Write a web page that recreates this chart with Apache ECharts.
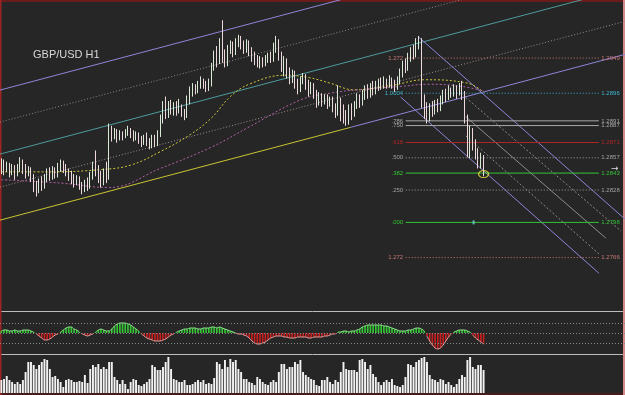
<!DOCTYPE html>
<html><head><meta charset="utf-8">
<script src="https://cdn.jsdelivr.net/npm/echarts@6/dist/echarts.min.js"></script>
<style>html,body{margin:0;padding:0;background:#262626;}#c{width:625px;height:395px;}</style>
</head><body><div id="c"></div><script>
// ---------------- DATA ----------------
const title = 'GBP/USD H1';
const PRICE_BASE = 1.2700;           // all *Pips values are pips above 1.2700
const N_SLOTS = 232;                  // bar slots across the window (180 bars + empty right margin)

// hourly candles [open, close, low, high] in pips
const candlesPips = [
[146,150,141,155],[150,145,140,154],[145,149,143,152],[149,143,138,151],[143,147,140,150],[147,141,136,149],[141,146,139,150],[146,151,143,156],[151,147,141,154],[147,142,137,150],
[142,145,139,148],[145,139,134,147],[139,132,125,141],[132,128,121,135],[128,134,124,137],[134,130,126,139],[130,137,128,141],[137,142,134,146],[142,139,135,147],[139,144,136,148],
[144,141,137,147],[141,146,138,151],[146,150,143,154],[150,146,142,153],[146,143,139,150],[143,140,135,146],[140,137,132,144],[137,134,129,141],[134,136,131,140],[136,131,127,139],
[131,128,123,134],[128,133,125,136],[133,130,126,138],[130,139,128,143],[139,147,136,152],[147,143,139,162],[143,138,133,149],[138,134,129,144],[134,141,131,146],[141,138,133,152],
[138,180,136,186],[180,176,170,184],[176,178,172,182],[178,174,169,181],[174,177,171,180],[177,175,171,179],[175,178,173,181],[178,180,175,184],[180,177,173,182],[177,174,170,180],
[174,176,171,179],[176,172,168,178],[172,169,165,175],[169,173,167,176],[173,170,166,178],[170,166,163,173],[166,171,164,176],[171,168,165,176],[168,176,166,180],[176,190,174,194],
[190,199,186,206],[199,195,190,210],[195,203,191,206],[203,198,194,207],[198,202,193,205],[202,197,193,206],[197,200,195,208],[200,196,192,203],[196,193,189,199],[193,206,191,211],
[206,214,203,219],[214,218,210,222],[218,216,212,221],[216,220,213,224],[220,224,217,228],[224,221,217,226],[221,218,214,224],[218,222,215,226],[222,236,219,240],[236,246,233,251],
[246,242,236,255],[242,254,239,262],[254,247,240,278],[247,240,236,252],[240,251,237,256],[251,256,248,260],[256,250,245,259],[250,258,247,262],[258,262,254,265],[262,257,252,264],
[257,253,248,260],[253,258,249,261],[258,252,246,260],[252,246,241,254],[246,243,238,250],[243,239,236,247],[239,242,235,246],[242,240,236,245],[240,243,237,247],[243,246,240,249],
[246,244,240,250],[244,252,241,258],[252,258,249,264],[258,246,242,261],[246,236,232,250],[236,241,228,246],[241,232,226,244],[232,226,221,236],[226,230,222,234],[230,222,217,233],
[222,217,212,226],[217,224,214,228],[224,228,221,231],[228,221,216,230],[221,215,210,225],[215,219,212,223],[219,213,208,222],[213,205,200,216],[205,210,202,214],[210,206,201,213],
[206,209,203,212],[209,204,199,212],[204,207,201,210],[207,201,196,210],[201,196,191,204],[196,204,193,220],[204,198,188,209],[198,192,186,203],[192,190,184,198],[190,199,185,203],
[199,195,189,204],[195,202,192,206],[202,208,199,213],[208,205,200,212],[205,211,202,216],[211,216,207,220],[216,212,208,221],[212,218,209,222],[218,215,211,224],[215,219,212,224],
[219,222,215,226],[222,220,216,227],[220,224,217,228],[224,221,217,226],[221,225,218,229],[225,222,217,227],[222,219,214,225],[219,224,216,228],[224,230,221,235],[230,238,227,242],
[238,236,231,244],[236,245,233,249],[245,251,241,254],[251,248,243,256],[248,256,245,262],[256,259,252,264],[259,206,200,262],[206,198,190,212],[198,192,186,205],[192,200,188,204],
[200,197,192,206],[197,203,194,207],[203,200,196,208],[200,207,197,211],[207,212,203,216],[212,210,205,217],[210,215,207,220],[215,213,209,218],[213,217,210,221],[217,214,208,220],
[214,219,211,222],[219,212,207,224],[212,190,186,215],[190,160,156,194],[160,178,155,184],[178,168,162,182],[168,160,154,172],[160,150,146,164],[150,156,146,160],[156,143,139,158]
];

// tick volume (hundreds)
const volume = [
13,14,17,13,11,9,11,9,13,
21,31,31,28,24,28,31,34,33,24,
16,17,14,11,6,
13,14,13,11,11,12,11,18,10,
24,28,26,29,24,26,24,31,31,16,13,
9,13,9,4,11,14,13,8,7,
9,11,14,28,26,23,23,26,31,36,24,14,13,
11,11,13,8,8,9,11,13,11,13,9,10,9,15,
31,29,24,33,26,34,31,33,24,21,
14,14,11,10,8,16,14,11,9,8,
11,13,11,21,29,29,24,26,26,31,29,33,21,18,16,14,13,8,7,13,
13,16,11,9,13,11,
21,31,24,23,23,23,21,33,
34,31,24,28,19,16,11,8,
11,13,11,14,8,7,6,8,16,
29,28,26,31,33,35,36,31,18,
14,13,11,14,13,9,11,
8,6,9,14,18,16,
33,36,26,24,28,28,23
];

// oscillator histogram
const osc = [
2,3,3,2,2,3,2,2,3,3,3,2,1,
-1,-3,-5,-7,-7,-6,-4,-2,-1,
1,3,5,6,6,4,3,1,
-1,-2,-3,-2,-1,
1,3,4,3,2,2,
4,7,9,10,10,10,9,8,6,4,2,
-1,-3,-5,-6,-7,-8,-8,-8,-7,-6,-4,-2,-1,
1,2,3,4,4,5,5,5,4,4,5,5,5,6,6,5,6,5,4,3,2,1,
0,-1,-1,-2,-3,
-5,-8,-10,-11,-11,-10,-9,-7,-5,-4,-3,
-3,-3,-4,-4,-5,-5,-5,-4,-4,-4,-4,-5,-5,-4,-4,-4,-4,-3,-3,-2,-1,-1,
1,1,2,2,1,2,2,3,
4,6,7,8,8,8,8,8,8,7,7,6,5,4,3,2,
2,2,3,3,4,5,5,4,2,
-3,-8,-12,-15,-16,-15,-12,-8,-4,-1,
1,2,3,3,3,2,1,
-2,-5,-7,-9,-11
];
const oscLevels = [10, 0, -10];

// moving averages, read as [bar, pips]
const maFastPips = [[0,143],[18,143],[37,145],[48,149],[59,161],[70,176],[78,191],[85,210],[92,221],[105,229],[114,227],[122,222],[131,216],[145,220],[157,225],[173,222],[179,214]];
const maSlowPips = [[0,136],[22,133],[40,129],[59,146],[78,165],[92,183],[111,207],[122,213],[132,216],[148,219],[159,221],[171,219],[179,215]];

// rising channel lines [bar, pips]
const chanTop    = [[-0.5,215.8],[231.5,363.4]];
const chanUpDot  = [[-0.5,187.3],[231.5,334.9]];
const chanMid    = [[-0.5,158.8],[231.5,306.4]];
const chanLowDot = [[-0.5,129.4],[231.5,277.0]];
const chanBottomA = [[-0.5,100.0],[129.6,182.6]];
const chanBottomB = [[129.6,182.6],[231.5,247.6]];

// falling fork lines [bar, pips]
const forkUpper  = [[154.9,263.0],[231.5,100.9]];
const forkLower  = [[148.2,209.6],[221.8,52.8]];
const forkMedian = [[172.4,192.1],[224.4,84.0]];
const forkQ1     = [[172.4,209.1],[230.0,90.3]];
const forkQ3     = [[172.4,175.0],[221.8,70.0]];

// fibonacci expansion
const fibLow = 1.2798, fibHigh = 1.2913;
const fibLevels = [1.272, 1.000, 0.786, 0.750, 0.618, 0.500, 0.382, 0.250, 0.000, -0.272];
const fibLeftText  = ['1.272','1.0004','.786','.750','.618','.500','.382','.250','.000','1.272'];
const fibRightText = ['1.2949','1.2896','1.2891','1.2887','1.2871','1.2857','1.2843','1.2828','1.2798','1.2766'];
const fibFromBar = 150.1, fibToBar = 221.8;
const fibTickBar = 175.3;
const lastLowMark = [179, 141];

// ---------------- BUILD ----------------
const P = p => +(PRICE_BASE + p / 10000).toFixed(5);
const cats = Array.from({length: N_SLOTS}, (_, i) => String(i));
const toPts = arr => arr.map(d => [d[0], P(d[1])]);

const fibStyles = [
  {color:'#c97676', type:[1,2]},
  {color:'#3db7d0', type:[1,2]},
  {color:'#a9a9a9', type:'solid'},
  {color:'#a9a9a9', type:'solid'},
  {color:'#b02626', type:'solid'},
  {color:'#a2a2a2', type:[1,2]},
  {color:'#33c433', type:'solid'},
  {color:'#a2a2a2', type:[1,2]},
  {color:'#33c433', type:'solid'},
  {color:'#c97676', type:[1,2]}
];

function lineSeries(pts, color, type, width, extra) {
  return Object.assign({
    type:'line', xAxisIndex:1, yAxisIndex:0, data:toPts(pts), symbol:'none',
    silent:true, animation:false, clip:true, z:2,
    lineStyle:{color:color, type:type, width:width||1}
  }, extra||{});
}

const series = [];
series.push(lineSeries(chanTop, '#8e86d8', 'solid'));
series.push(lineSeries(chanUpDot, '#8a8a8a', [1,2]));
series.push(lineSeries(chanMid, '#4f9a9c', 'solid'));
series.push(lineSeries(chanLowDot, '#a08a90', [1,2]));
series.push(lineSeries(chanBottomA, '#c8c432', 'solid'));
series.push(lineSeries(chanBottomB, '#8e86d8', 'solid'));
series.push(lineSeries(forkUpper, '#8e86d8', 'solid'));
series.push(lineSeries(forkLower, '#8e86d8', 'solid'));
series.push(lineSeries(forkMedian, '#8c8c8c', 'solid'));
series.push(lineSeries(forkQ1, '#8c8c8c', [2,2]));
series.push(lineSeries(forkQ3, '#8c8c8c', [2,2]));
series.push(lineSeries(maFastPips, '#cfc83a', [2,2], 1, {smooth:0.4}));
series.push(lineSeries(maSlowPips, '#b260a4', [2,2], 1, {smooth:0.4}));

fibLevels.forEach((lv, k) => {
  const price = +(fibLow + lv * (fibHigh - fibLow)).toFixed(5);
  const st = fibStyles[k];
  const lab = {show:true, color:st.color, fontSize:6, fontFamily:'Liberation Sans'};
  series.push({
    type:'line', xAxisIndex:1, yAxisIndex:0, silent:true, animation:false, z:3,
    symbol:'circle', symbolSize:1, itemStyle:{color:'rgba(0,0,0,0)'},
    lineStyle:{color:st.color, type:st.type, width:1},
    data:[
      {value:[fibFromBar, price], label:Object.assign({position:'left', distance:2, formatter:fibLeftText[k]}, lab)},
      {value:[fibToBar, price], label:Object.assign({position:'right', distance:2, formatter:fibRightText[k]}, lab)}
    ]
  });
});

series.push({
  type:'scatter', xAxisIndex:1, yAxisIndex:0, silent:true, animation:false, z:6,
  data:[[fibTickBar, fibLow]], symbol:'rect', symbolSize:[2,4], itemStyle:{color:'#6fd6e6'}
});
series.push({
  type:'scatter', xAxisIndex:1, yAxisIndex:0, silent:true, animation:false, z:6,
  data:[[lastLowMark[0], P(lastLowMark[1])]], symbol:'circle', symbolSize:[10,7],
  itemStyle:{color:'rgba(0,0,0,0)', borderColor:'#e2e03a', borderWidth:1.2}
});

series.push({
  type:'candlestick', xAxisIndex:0, yAxisIndex:0, animation:false, silent:true, z:5,
  barWidth:1,
  data:candlesPips.map(c => [P(c[0]), P(c[1]), P(c[2]), P(c[3])]),
  itemStyle:{color:'#d9e9d5', color0:'#eed9dc', borderColor:'#d9e9d5', borderColor0:'#eed9dc', borderWidth:1}
});

// oscillator panel
series.push({
  type:'bar', xAxisIndex:2, yAxisIndex:1, animation:false, silent:true, barWidth:'60%',
  data:osc.map(v => ({value:v, itemStyle:{color: v >= 0 ? '#36c936' : '#c81f1f'}})),
  markLine:{silent:true, symbol:'none', label:{show:false}, animation:false,
    lineStyle:{color:'#8a8a8a', type:[1,2], width:1},
    data:oscLevels.map(v => ({yAxis:v}))}
});
series.push({
  type:'line', xAxisIndex:2, yAxisIndex:1, animation:false, silent:true, symbol:'none',
  smooth:0.3, connectNulls:false, data:osc.map(v => v <= 0 ? v : null),
  lineStyle:{width:1, color:'#e6a2a2'}
});
series.push({
  type:'line', xAxisIndex:2, yAxisIndex:1, animation:false, silent:true, symbol:'none',
  smooth:0.3, connectNulls:false, data:osc.map(v => v >= 0 ? v : null),
  lineStyle:{width:1, color:'#8fe08f'}
});

// volume panel
series.push({
  type:'bar', xAxisIndex:3, yAxisIndex:2, animation:false, silent:true, barWidth:'72%',
  data:volume, itemStyle:{color:'#f2f2f2'}
});

const option = {
  backgroundColor:'#262626',
  animation:false,
  grid:[
    {left:0, right:0, top:0, height:310},
    {left:0, right:0, top:312, height:42},
    {left:0, right:0, top:355, height:38}
  ],
  xAxis:[
    {type:'category', data:cats, gridIndex:0, show:false},
    {type:'value', gridIndex:0, min:-0.5, max:N_SLOTS-0.5, show:false},
    {type:'category', data:cats, gridIndex:1, show:false},
    {type:'category', data:cats, gridIndex:2, show:false}
  ],
  yAxis:[
    {type:'value', gridIndex:0, min:1.2720, max:1.2996, show:false},
    {type:'value', gridIndex:1, min:-21, max:21, show:false},
    {type:'value', gridIndex:2, min:0, max:38, show:false}
  ],
  graphic:[
    {type:'text', left:33, top:49, silent:true, style:{text:title, fill:'#d8d8d8', font:'11px "Liberation Sans", Arial'}},
    {type:'line', silent:true, shape:{x1:0,y1:311.5,x2:625,y2:311.5}, style:{stroke:'#bdbdbd', lineWidth:1}},
    {type:'line', silent:true, shape:{x1:0,y1:354.5,x2:625,y2:354.5}, style:{stroke:'#bdbdbd', lineWidth:1}},
    {type:'text', left:611, top:164, silent:true, style:{text:'→', fill:'#dddddd', font:'9px "DejaVu Sans"'}},
    {type:'rect', silent:true, shape:{x:0,y:0,width:625,height:2}, style:{fill:'#6a1c1c'}},
    {type:'rect', silent:true, shape:{x:0,y:393,width:625,height:2}, style:{fill:'#4a1a1a'}},
    {type:'rect', silent:true, shape:{x:0,y:0,width:1.5,height:395}, style:{fill:'#9a2424'}},
    {type:'rect', silent:true, shape:{x:623,y:0,width:2,height:395}, style:{fill:'#d48a8a'}}
  ],
  series:series
};

const chart = echarts.init(document.getElementById('c'), null, {renderer:'canvas'});
chart.setOption(option);
</script></body></html>
